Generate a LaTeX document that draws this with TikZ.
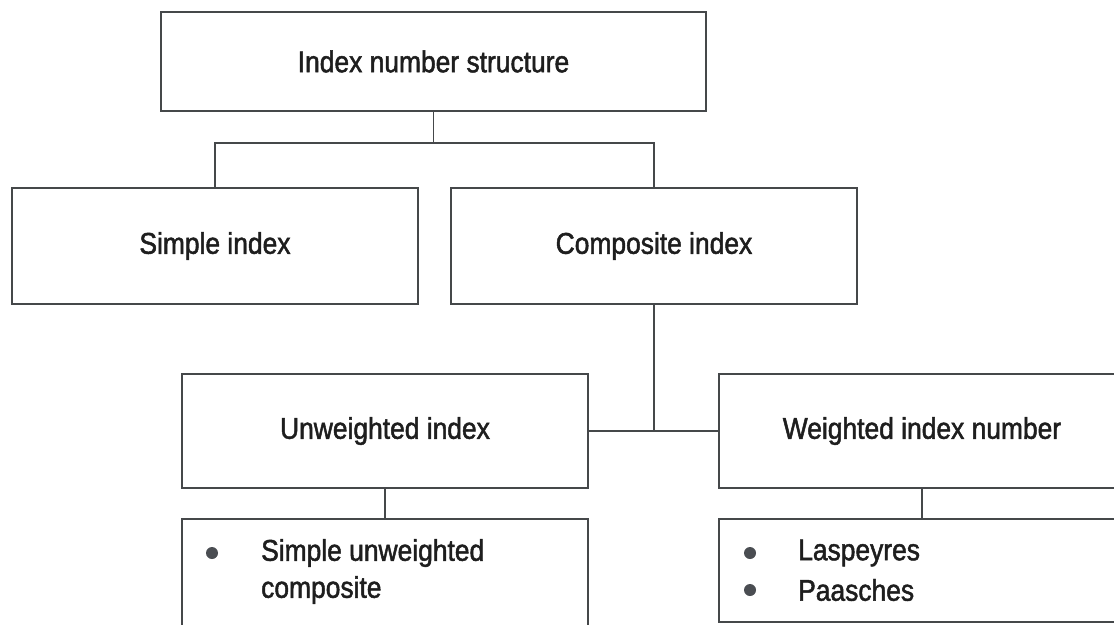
\documentclass[tikz,border=0pt]{standalone}
\usepackage{fontspec}
\setmainfont{Liberation Sans}[FakeStretch=0.88,FakeBold=1.6]
\begin{document}
\begin{tikzpicture}[x=1pt,y=-1pt,
  box/.style={draw=linegray, line width=1.5pt, fill=white, rectangle, inner sep=0pt,
    minimum width=406pt, font=\fontsize{30}{37}\selectfont, text=txt},
  conn/.style={draw=linegray, line width=1.5pt},
  item/.style={anchor=west, inner sep=0pt, font=\fontsize{30}{37}\selectfont, text=txt},
  dot/.style={circle, fill=dotgray, inner sep=0pt, minimum size=12pt}]
\definecolor{linegray}{HTML}{45484A}
\definecolor{txt}{HTML}{1E1E1E}
\definecolor{dotgray}{HTML}{4A4D52}
\useasboundingbox (0,0) rectangle (1114,624);
\clip (0,0) rectangle (1114,624);
\fill[white] (0,0) rectangle (1114,624);

% top level
\node[box, minimum width=545pt, minimum height=99pt] (top) at (433.5,61.5) {Index number structure};

% second level
\node[box, minimum height=116pt] (simple) at (215,246) {Simple index};
\node[box, minimum height=116pt] (comp) at (654,246) {Composite index};

% third level
\node[box, minimum height=114pt] (unw) at (385,431) {Unweighted index};
\node[box, minimum height=114pt] (wei) at (922,431) {Weighted index number};

% lists of methods
\node[box, minimum height=130pt] (unwlist) at (385,584) {};
\node[box, minimum height=103pt] (weilist) at (922,570.5) {};

% connectors
\draw[conn] (top.south) -- ++(0,31) coordinate (split);
\draw[conn] (simple.north) |- (split) -| (comp.north);
\draw[conn] (unw.east) -- (wei.west);
\draw[conn] (comp.south) -- (comp.south |- unw.east);
\draw[conn] (unw.south) -- (unwlist.north);
\draw[conn] (wei.south) -- (weilist.north);

% list contents
\node[dot] (b1) at (212,553) {};
\node[item] (t1) at (261,553) {Simple unweighted};
\node[item] (t2) at (261,590) {composite};
\node[dot] (b2) at (750,553) {};
\node[item] (t3) at (798,553) {Laspeyres};
\node[dot] (b3) at (750,590) {};
\node[item] (t4) at (798,590) {Paasches};
\end{tikzpicture}
\end{document}
